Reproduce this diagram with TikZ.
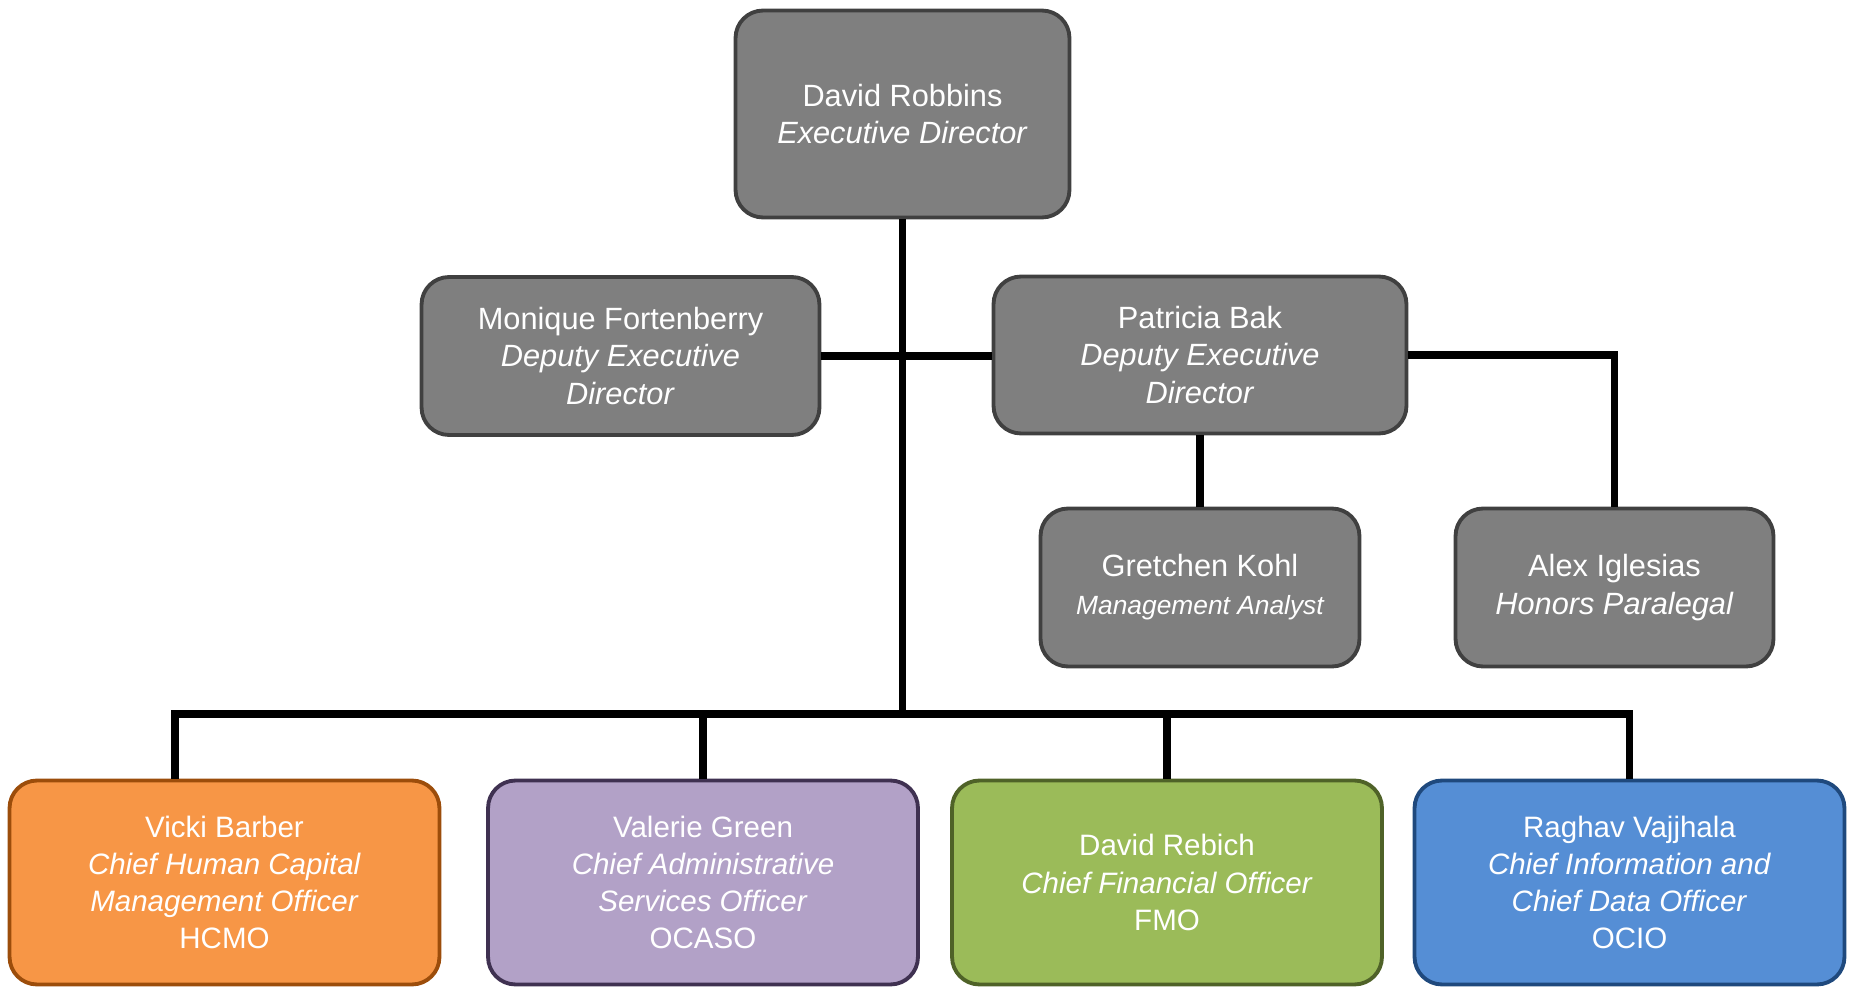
\documentclass[tikz,border=0pt]{standalone}
\usepackage{fontspec}
\setmainfont{Liberation Sans}
\usepackage{tikz}
\usetikzlibrary{positioning,calc}
\definecolor{boxgray}{HTML}{7F7F7F}
\definecolor{edgegray}{HTML}{404040}
\definecolor{hcmofill}{HTML}{F79646}
\definecolor{hcmoedge}{HTML}{9C4D0B}
\definecolor{ocasofill}{HTML}{B2A1C7}
\definecolor{ocasoedge}{HTML}{3F3151}
\definecolor{fmofill}{HTML}{9BBB59}
\definecolor{fmoedge}{HTML}{4F6228}
\definecolor{ociofill}{HTML}{558ED5}
\definecolor{ocioedge}{HTML}{1F497D}

\begin{document}
\begin{tikzpicture}[x=0.02cm,y=-0.02cm,
	staff_node/.style={rectangle,rounded corners=0.55cm,draw=edgegray,fill=boxgray,line width=2.2pt,text=white,align=center,font=\fontsize{17.5}{21.6}\selectfont},
	office_node/.style={staff_node,minimum width=8.6cm,minimum height=4.08cm,font=\fontsize{16.8}{21.2}\selectfont},
	link/.style={line width=4.4pt}]
				\useasboundingbox (0,0) rectangle (1854,990);
				\node[staff_node,minimum width=6.68cm,minimum height=4.14cm](1) at (902.5,114){David Robbins\\\textit{Executive Director}};
				\node[staff_node,minimum width=7.96cm,minimum height=3.16cm](2) at (620.5,356){Monique Fortenberry\\\textit{Deputy Executive}\\\textit{Director}};
				\node[staff_node,minimum width=8.26cm,minimum height=3.14cm](3) at (1200,355){Patricia Bak\\\textit{Deputy Executive}\\\textit{Director}};
				\node[staff_node,minimum width=6.38cm,minimum height=3.16cm](4) at (1200,587.5){Gretchen Kohl\\{\fontsize{15}{21.6}\selectfont\itshape Management Analyst}};
				\node[staff_node,minimum width=6.36cm,minimum height=3.16cm](5) at (1614.5,587.5){Alex Iglesias\\\textit{Honors Paralegal}};
				\node[office_node,draw=hcmoedge,fill=hcmofill](6) at (224.5,882.5){Vicki Barber\\\textit{Chief Human Capital}\\\textit{Management Officer}\\HCMO};
				\node[office_node,draw=ocasoedge,fill=ocasofill](7) at (703,882.5){Valerie Green\\\textit{Chief Administrative}\\\textit{Services Officer}\\OCASO};
				\node[office_node,draw=fmoedge,fill=fmofill](8) at (1167,882.5){David Rebich\\\textit{Chief Financial Officer}\\FMO};
				\node[office_node,draw=ocioedge,fill=ociofill](9) at (1629.5,882.5){Raghav Vajjhala\\\textit{Chief Information and}\\\textit{Chief Data Officer}\\OCIO};
				\coordinate (bus) at (903,714);
				\draw[link] (1.south) -- (1.south |- bus);
				\draw[link] (2.east) -- (2.east -| 3.west);
				\draw[link] (3.east) -| (5.north);
				\draw[link] (3.south) -- (4.north);
				\draw[link] ($(6.north)+(-49.5,0)$) |- (bus) -| (9.north);
				\draw[link] (7.north) -- (7.north |- bus);
				\draw[link] (8.north) -- (8.north |- bus);
			\end{tikzpicture}
\end{document}
